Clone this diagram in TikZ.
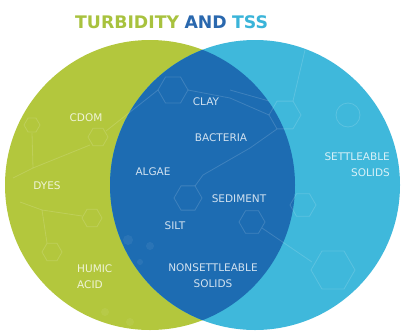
\documentclass[tikz,border=0pt]{standalone}
\usepackage{fontspec}
\setmainfont{DejaVu Sans}
\newfontfamily\labelfont{DejaVu Sans}
\newfontfamily\titlefont{DejaVu Sans}
\definecolor{tssgreen}{HTML}{B3C73D}
\definecolor{tsscyan}{HTML}{3FB8DB}
\definecolor{tssblue}{HTML}{1D6CB2}
\definecolor{titlegreen}{HTML}{A8C23E}
\definecolor{titleblue}{HTML}{2A68AE}
\definecolor{titlecyan}{HTML}{3AB4D9}
% one hexagon of the molecule network: centre x, centre y, radius
\newcommand{\molhex}[3]{\draw[net] (#1,#2) +(0:#3) -- +(60:#3) -- +(120:#3) -- +(180:#3) -- +(240:#3) -- +(300:#3) -- cycle;}
\begin{document}
\begin{tikzpicture}[x=1pt,y=-1pt,
  net/.style={draw=white, draw opacity=0.15, line width=0.8pt},
  dot/.style={fill=white, fill opacity=0.06},
  lbl/.style={text=white, text opacity=0.8, font=\labelfont\fontsize{10.5}{16}\selectfont, inner sep=0pt},
  ttl/.style={font=\titlefont\bfseries\fontsize{17.3}{20}\selectfont, inner sep=0pt, anchor=base west}]
\useasboundingbox (0,0) rectangle (401,335);
\fill[white] (0,0) rectangle (401,335);
\coordinate (cl) at (150,185);
\coordinate (cr) at (255,185);
% the two sets and their overlap
\fill[tssgreen] (cl) circle (145pt);
\fill[tsscyan] (cr) circle (145pt);
\begin{scope}
  \clip (cl) circle (145pt);
  \fill[tssblue] (cr) circle (145pt);
\end{scope}
% faint molecule network in the background
\begin{scope}
  \clip (cl) circle (145pt) (cr) circle (145pt);
  \molhex{32}{125}{8}
  \molhex{98}{137}{10}
  \molhex{92}{218}{10}
  \molhex{52}{252}{10}
  \molhex{173}{90}{15}
  \molhex{188}{198}{14}
  \molhex{285}{115}{16}
  \molhex{252}{222}{13}
  \molhex{303}{205}{13}
  \molhex{333}{270}{22}
  \draw[net] (32,133) -- (33,168) -- (13,178);
  \draw[net] (33,168) -- (90,145);
  \draw[net] (20,202) -- (42,210) -- (82,216);
  \draw[net] (42,210) -- (47,243);
  \draw[net] (106,131) -- (158,90);
  \draw[net] (188,90) -- (230,98) -- (269,115);
  \draw[net] (230,90) -- (269,101);
  \draw[net] (293,101) -- (305,50);
  \draw[net] (277,129) -- (250,148) -- (203,175) -- (195,186);
  \draw[net] (262,228) -- (312,262);
  \draw[net] (348,115) circle (12pt);
  \fill[dot] (128,240) circle (5pt);
  \fill[dot] (150,246) circle (4pt);
  \fill[dot] (140,262) circle (3pt);
  \fill[dot] (105,312) circle (4pt);
  \fill[dot] (130,322) circle (4pt);
\end{scope}
% title
\node[ttl, text=titlegreen] (t1) at (75,28.5) {TURBIDITY};
\node[ttl, text=titleblue, anchor=base west] (t2) at ([xshift=5pt]t1.base east) {AND};
\node[ttl, text=titlecyan, anchor=base west] (t3) at ([xshift=5pt]t2.base east) {TSS};
% labels
\node[lbl] (cdom) at (86,118) {CDOM};
\node[lbl] (dyes) at (47,186) {DYES};
\node[lbl, align=left, anchor=west] (humic) at (77,277) {HUMIC\\ACID};
\node[lbl] (clay) at (206,102) {CLAY};
\node[lbl] (bacteria) at (221,138) {BACTERIA};
\node[lbl] (algae) at (153,172) {ALGAE};
\node[lbl] (sediment) at (239,199) {SEDIMENT};
\node[lbl] (silt) at (175,226) {SILT};
\node[lbl, align=center] (nonsett) at (213,276) {NONSETTLEABLE\\SOLIDS};
\node[lbl, align=right, anchor=east] (sett) at (390,164.5) {SETTLEABLE\\SOLIDS};
\end{tikzpicture}
\end{document}
